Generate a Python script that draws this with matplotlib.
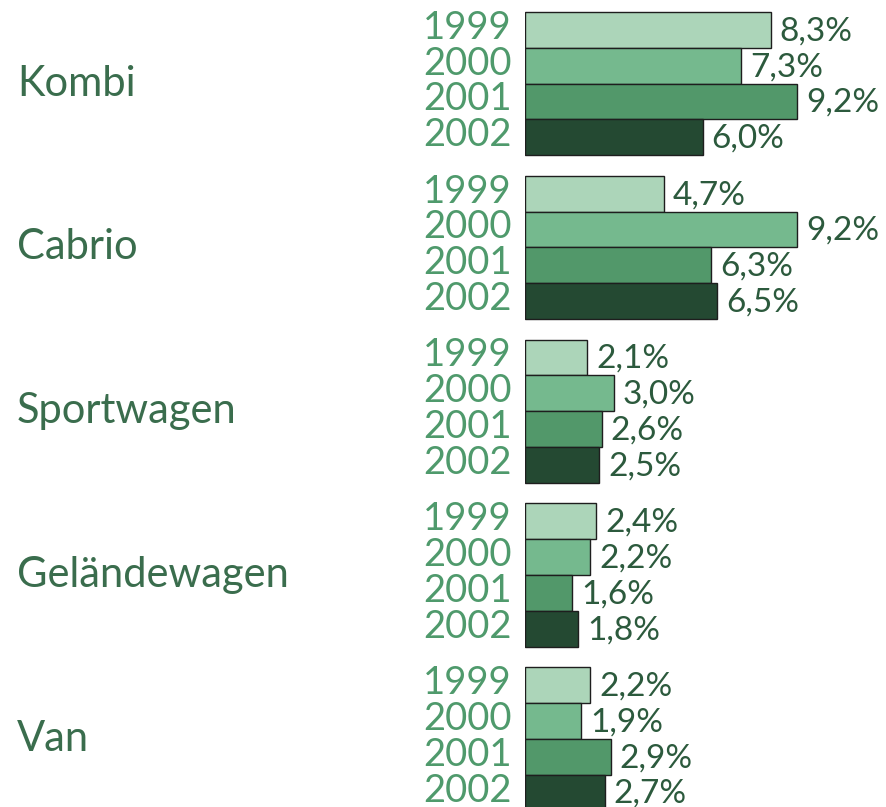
import matplotlib.pyplot as plt
from matplotlib.transforms import blended_transform_factory

# data
categories = ['Kombi', 'Cabrio', 'Sportwagen', 'Geländewagen', 'Van']
years = ['1999', '2000', '2001', '2002']
v1999 = [8.3, 4.7, 2.1, 2.4, 2.2]
v2000 = [7.3, 9.2, 3.0, 2.2, 1.9]
v2001 = [9.2, 6.3, 2.6, 1.6, 2.9]
v2002 = [6.0, 6.5, 2.5, 1.8, 2.7]
series = [v1999, v2000, v2001, v2002]

bar_colors = ['#acd5b9', '#75b98e', '#52986a', '#244932']
year_color = '#4f9a6c'
cat_color = '#3a6d4d'
val_color = '#2c5a3d'

plt.rcParams['font.family'] = ['Lato', 'DejaVu Sans']

fig = plt.figure(figsize=(8.87, 8.07), dpi=100)
# axes start where the bars start
left = 525 / 887
ax = fig.add_axes([left, 0, 1 - left, 1])
px_per_pct = 29.6
ax.set_xlim(0, (887 - 525) / px_per_pct)
ax.set_ylim(807, 0)
ax.axis('off')

bar_h = 35.8
pitch = 163.8
top = 12

def fmt(v):
    return f'{v:.1f}'.replace('.', ',') + '%'

lab_tr = blended_transform_factory(fig.transFigure, ax.transData)
for g, cat in enumerate(categories):
    g_top = top + g * pitch
    for i, yr in enumerate(years):
        yc = g_top + (i + 0.5) * bar_h
        v = series[i][g]
        ax.barh(yc, v, height=bar_h, color=bar_colors[i],
                edgecolor='#1e1e1e', linewidth=1.0)
        ax.text(-0.45, yc - 2, yr, ha='right', va='center', fontsize=27.5,
                color=year_color, clip_on=False)
        ax.text(v + 0.3, yc + 1.5, fmt(v), ha='left', va='center', fontsize=24,
                color=val_color, clip_on=False)
    ax.text(17 / 887, g_top + 2 * bar_h, cat, ha='left', va='center',
            fontsize=30, color=cat_color, transform=lab_tr)

fig.savefig('out.png', dpi=100)
